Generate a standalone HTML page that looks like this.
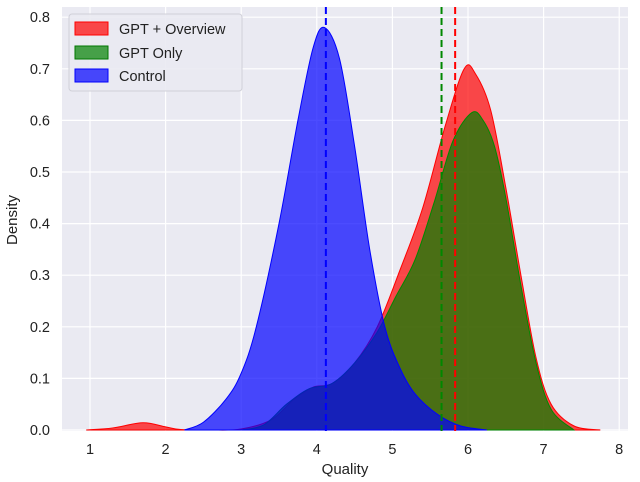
<!DOCTYPE html>
<html><head><meta charset="utf-8"><style>
body{margin:0;background:#fff;width:640px;height:482px;overflow:hidden}
svg{display:block;font-family:"Liberation Sans",sans-serif}
</style></head><body>
<svg id="s" width="640" height="482" xmlns="http://www.w3.org/2000/svg">
<rect x="62" y="7" width="566" height="424" fill="#eaeaf2"/>
<g id="grid" stroke="#fff" stroke-width="1.2"></g>
<g id="curves"></g>
<g id="ticks" font-size="14.5" fill="#222"></g>
<text x="345" y="474" font-size="15" text-anchor="middle" fill="#222">Quality</text>
<text transform="translate(17,220) rotate(-90)" font-size="15" text-anchor="middle" fill="#222">Density</text>
<g>
<rect x="69" y="14" width="173" height="77" rx="3" fill="#eaeaf2" fill-opacity="0.9" stroke="#d0d0d8"/>
<rect x="75" y="22" width="33" height="13" fill="rgba(255,0,0,0.7)" stroke="#f00"/>
<rect x="75" y="46" width="33" height="13" fill="rgba(0,128,0,0.7)" stroke="#070"/>
<rect x="75" y="69" width="33" height="13" fill="rgba(0,0,255,0.7)" stroke="#00f"/>
<text x="119" y="34" font-size="14.5" fill="#222">GPT + Overview</text>
<text x="119" y="58" font-size="14.5" fill="#222">GPT Only</text>
<text x="119" y="81" font-size="14.5" fill="#222">Control</text>
</g>
</svg>
<script>
const X=x=>90+(x-1)*75.6, Y=y=>430-y*516;
const ns="http://www.w3.org/2000/svg";
const g=document.getElementById('grid'),t=document.getElementById('ticks'),c=document.getElementById('curves');
function el(p,tag,a,txt){const e=document.createElementNS(ns,tag);for(const k in a)e.setAttribute(k,a[k]);if(txt!=null)e.textContent=txt;p.appendChild(e);return e;}
for(let i=1;i<=8;i++){el(g,'line',{x1:X(i),x2:X(i),y1:7,y2:431});el(t,'text',{x:X(i),y:454,'text-anchor':'middle'},i);}
for(let j=0;j<=8;j++){const y=Y(j/10);el(g,'line',{x1:62,x2:628,y1:y,y2:y});el(t,'text',{x:50,y:y+5,'text-anchor':'end'},(j/10).toFixed(1));}
function path(pts){pts=pts.map(p=>[X(p[0]),Y(p[1])]);let d='M'+pts[0][0]+','+Y(0)+' L'+pts[0];
for(let i=0;i<pts.length-1;i++){const p0=pts[Math.max(0,i-1)],p1=pts[i],p2=pts[i+1],p3=pts[Math.min(pts.length-1,i+2)];
const c1=[p1[0]+(p2[0]-p0[0])/6,p1[1]+(p2[1]-p0[1])/6],c2=[p2[0]-(p3[0]-p1[0])/6,p2[1]-(p3[1]-p1[1])/6];
d+=' C'+c1+' '+c2+' '+p2;}return d+' L'+pts[pts.length-1][0]+','+Y(0)+'Z';}
const red=[[0.95,0],[1.3,0.004],[1.7,0.014],[2.0,0.006],[2.2,0.001],[2.6,0],[3.0,0.002],[3.4,0.02],[3.7,0.06],[3.95,0.083],[4.2,0.09],[4.5,0.13],[4.8,0.2],[5.1,0.31],[5.4,0.43],[5.7,0.59],[5.95,0.70],[6.1,0.69],[6.3,0.62],[6.5,0.47],[6.7,0.3],[6.9,0.14],[7.1,0.05],[7.4,0.008],[7.75,0]];
const green=[[3.0,0],[3.3,0.01],[3.6,0.05],[3.9,0.08],[4.2,0.09],[4.5,0.13],[4.8,0.19],[5.05,0.26],[5.3,0.33],[5.55,0.44],[5.8,0.56],[6.05,0.615],[6.2,0.6],[6.35,0.55],[6.5,0.45],[6.7,0.28],[6.9,0.13],[7.1,0.04],[7.4,0]];
const blue=[[2.25,0],[2.5,0.015],[2.8,0.06],[3.0,0.11],[3.2,0.2],[3.5,0.4],[3.75,0.6],[3.95,0.74],[4.1,0.78],[4.3,0.72],[4.5,0.55],[4.7,0.35],[4.9,0.2],[5.1,0.12],[5.3,0.07],[5.6,0.03],[5.9,0.008],[6.25,0]];
el(c,'path',{d:path(red),fill:'rgba(255,0,0,0.7)',stroke:'#f00','stroke-width':1});
el(c,'path',{d:path(green),fill:'rgba(0,128,0,0.7)',stroke:'#080','stroke-width':1});
el(c,'path',{d:path(blue),fill:'rgba(0,0,255,0.7)',stroke:'#00f','stroke-width':1});
[[4.12,'#00f'],[5.65,'#080'],[5.83,'#f00']].forEach(m=>el(c,'line',{x1:X(m[0]),x2:X(m[0]),y1:7,y2:431,stroke:m[1],'stroke-width':2,'stroke-dasharray':'7,4'}));
</script>
</body></html>
